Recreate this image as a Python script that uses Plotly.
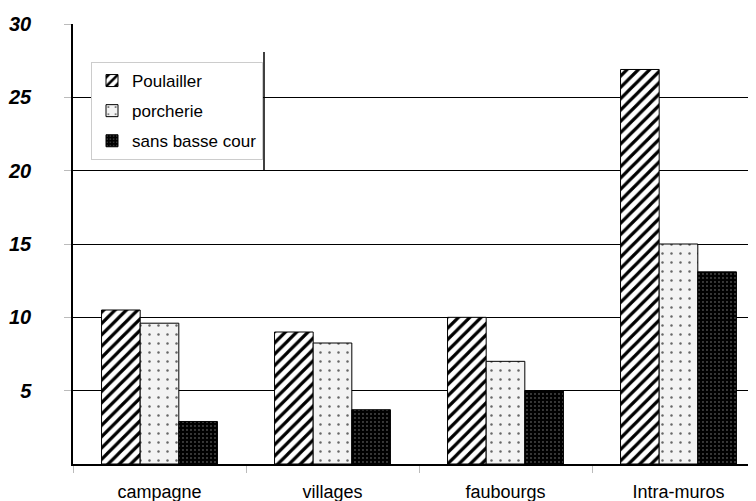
import plotly.graph_objects as go

categories = ["campagne", "villages", "faubourgs", "Intra-muros"]
poulailler = [10.5, 9.0, 10.0, 26.9]
porcherie = [9.6, 8.25, 7.0, 15.0]
sans_basse_cour = [2.9, 3.7, 5.0, 13.1]
y_ticks = [5, 10, 15, 20, 25, 30]

# the page body has an 8px margin, so the figure is drawn 8px smaller
W, H = 748, 493
L, T, B, R = 65, 16, 37, 0
PW, PH = W - L - R, H - T - B

fig = go.Figure()
fig.add_trace(go.Bar(
    name="Poulailler", x=categories, y=poulailler, legendgroup="a",
    marker=dict(color="white", line=dict(color="black", width=1),
                pattern=dict(shape="/", fgcolor="black", bgcolor="white",
                             size=8, solidity=0.4, fillmode="replace")),
))
fig.add_trace(go.Bar(
    name="porcherie", x=categories, y=porcherie, legendgroup="b",
    marker=dict(color="#f2f2f2", line=dict(color="black", width=1),
                pattern=dict(shape=".", fgcolor="#666666", bgcolor="#f3f3f3",
                             size=9, solidity=0.06, fillmode="replace")),
))
fig.add_trace(go.Bar(
    name="sans basse cour", x=categories, y=sans_basse_cour, legendgroup="c",
    marker=dict(color="black", line=dict(color="black", width=1),
                pattern=dict(shape=".", fgcolor="#8a8a8a", bgcolor="black",
                             size=4, solidity=0.1, fillmode="replace")),
))

fig.add_shape(type="line", xref="paper", yref="paper",
              x0=(256 - L) / PW, x1=(256 - L) / PW,
              y0=(T + PH - 163) / PH, y1=(T + PH - 44) / PH,
              line=dict(color="black", width=1.5))

fig.update_layout(
    width=W, height=H,
    margin=dict(l=L, r=R, t=T, b=B),
    paper_bgcolor="white", plot_bgcolor="white",
    barmode="group", bargap=0.33, bargroupgap=0,
    font=dict(family="Liberation Sans, Arial, sans-serif", color="black"),
    showlegend=True,
    legend=dict(x=(83 - L) / PW, y=(T + PH - 54) / PH, xanchor="left", yanchor="top",
                bgcolor="white", bordercolor="#cccccc", borderwidth=1,
                tracegroupgap=5,
                font=dict(size=17, color="black")),
    xaxis=dict(range=[-0.5, 3.448], showline=True, linecolor="black", linewidth=1.5,
               ticks="outside", tickson="boundaries", ticklen=7, tickcolor="#bbbbbb",
               tickfont=dict(size=18), showgrid=False, ticklabelstandoff=11),
    yaxis=dict(range=[0, 30], tickvals=y_ticks, showline=True, linecolor="black",
               linewidth=1.5, showgrid=True, gridcolor="black", gridwidth=1.3,
               zeroline=False, ticks="outside", ticklen=7, tickcolor="#bbbbbb",
               tickfont=dict(size=20, weight="bold", style="italic"),
               ticklabelstandoff=29),
)
fig.write_html("out.html")
